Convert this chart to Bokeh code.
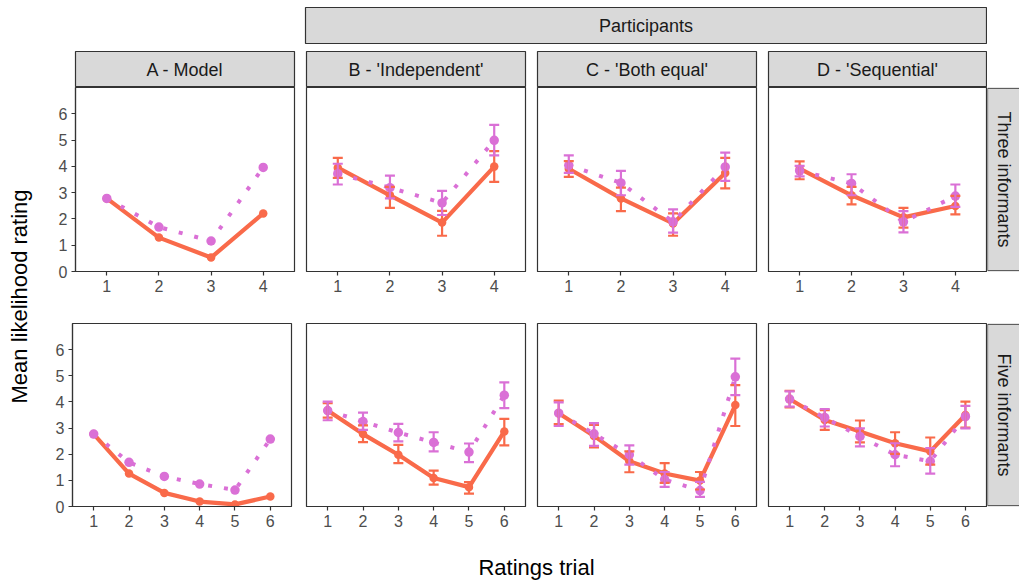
import math
from bokeh.plotting import figure
from bokeh.models import Range1d, FixedTicker, ColumnDataSource, Whisker, TeeHead, Spacer
from bokeh.layouts import row, column
from bokeh.core.properties import value
from bokeh.embed import file_html
from bokeh.resources import INLINE

# ---------------- data ----------------
trials_three = [1, 2, 3, 4]
trials_five = [1, 2, 3, 4, 5, 6]
y_ticks = [0, 1, 2, 3, 4, 5, 6]

column_labels = ["A - Model", "B - 'Independent'", "C - 'Both equal'", "D - 'Sequential'"]
row_labels = ["Three informants", "Five informants"]
group_label = "Participants"
x_title = "Ratings trial"
y_title = "Mean likelihood rating"

# Model (no error bars)
model3_solid = [2.78, 1.29, 0.53, 2.21]
model3_dotted = [2.78, 1.69, 1.16, 3.96]
model5_solid = [2.77, 1.26, 0.52, 0.19, 0.08, 0.38]
model5_dotted = [2.77, 1.69, 1.15, 0.86, 0.63, 2.58]

# Three informants - participants
ind3_solid = [3.95, 2.90, 1.86, 3.99]
ind3_solid_lo = [3.56, 2.42, 1.36, 3.41]
ind3_solid_hi = [4.32, 3.22, 2.31, 4.58]
ind3_dotted = [3.72, 3.19, 2.61, 4.99]
ind3_dotted_lo = [3.31, 2.78, 2.15, 4.42]
ind3_dotted_hi = [4.10, 3.65, 3.07, 5.58]

both3_solid = [3.91, 2.78, 1.83, 3.75]
both3_solid_lo = [3.60, 2.30, 1.36, 3.16]
both3_solid_hi = [4.20, 3.19, 2.21, 4.32]
both3_dotted = [4.04, 3.37, 1.89, 3.98]
both3_dotted_lo = [3.75, 2.90, 1.48, 3.45]
both3_dotted_hi = [4.42, 3.83, 2.36, 4.52]

seq3_solid = [3.91, 2.90, 2.06, 2.49]
seq3_solid_lo = [3.51, 2.55, 1.67, 2.17]
seq3_solid_hi = [4.19, 3.22, 2.42, 2.88]
seq3_dotted = [3.83, 3.35, 1.89, 2.87]
seq3_dotted_lo = [3.62, 2.90, 1.49, 2.46]
seq3_dotted_hi = [4.02, 3.70, 2.30, 3.31]

# Five informants - participants
ind5_solid = [3.67, 2.77, 1.98, 1.09, 0.74, 2.87]
ind5_solid_lo = [3.40, 2.46, 1.66, 0.84, 0.49, 2.34]
ind5_solid_hi = [3.95, 3.10, 2.36, 1.37, 0.93, 3.35]
ind5_dotted = [3.67, 3.25, 2.83, 2.45, 2.08, 4.26]
ind5_dotted_lo = [3.30, 2.93, 2.49, 2.11, 1.70, 3.76]
ind5_dotted_hi = [4.01, 3.59, 3.16, 2.84, 2.41, 4.75]

both5_solid = [3.57, 2.70, 1.73, 1.26, 0.99, 3.88]
both5_solid_lo = [3.15, 2.26, 1.31, 0.90, 0.65, 3.08]
both5_solid_hi = [4.05, 3.12, 2.11, 1.66, 1.32, 4.64]
both5_dotted = [3.57, 2.78, 1.98, 1.03, 0.61, 4.96]
both5_dotted_lo = [3.08, 2.32, 1.60, 0.75, 0.37, 4.26]
both5_dotted_hi = [3.98, 3.19, 2.34, 1.32, 0.94, 5.66]

seq5_solid = [4.11, 3.31, 2.87, 2.42, 2.11, 3.50]
seq5_solid_lo = [3.79, 2.93, 2.45, 2.01, 1.60, 3.02]
seq5_solid_hi = [4.42, 3.69, 3.29, 2.84, 2.64, 4.01]
seq5_dotted = [4.11, 3.40, 2.68, 1.98, 1.73, 3.44]
seq5_dotted_lo = [3.82, 3.06, 2.30, 1.54, 1.26, 2.99]
seq5_dotted_hi = [4.40, 3.73, 2.99, 2.42, 2.23, 3.85]

# ---------------- style ----------------
FONT = "Liberation Sans"
SOLID_COLOR = "#F96A4A"
DOTTED_COLOR = "#DA70D6"
STRIP_FILL = "#D9D9D9"
DARK = "#333333"
TICK_TEXT = "#4D4D4D"


def base_fig(w, h, xr, yr, **kw):
    p = figure(width=w, height=h, x_range=xr, y_range=yr, output_backend="svg",
               toolbar_location=None, **kw)
    p.xgrid.visible = False
    p.ygrid.visible = False
    return p


def strip(w, h, label, ml, mr, mt, mb, vertical=False):
    p = base_fig(w, h, Range1d(0, 1), Range1d(0, 1), x_axis_location=None, y_axis_location=None,
                 min_border_left=ml, min_border_right=mr, min_border_top=mt, min_border_bottom=mb)
    p.background_fill_color = STRIP_FILL
    p.outline_line_color = DARK
    p.outline_line_width = 1.2
    p.text(x=[0.5], y=[0.5], text=[label], text_align="center", text_baseline="middle",
           text_font=value(FONT), text_font_size="18px", text_color="#1A1A1A",
           angle=-math.pi / 2 if vertical else 0)
    return p


def right_strip(w, h, label, mt, mb):
    p = base_fig(w, h, Range1d(0, 1), Range1d(-0.004, 1.004), x_axis_location=None, y_axis_location=None,
                 min_border_left=0, min_border_right=0, min_border_top=mt, min_border_bottom=mb)
    p.outline_line_color = None
    p.quad(left=[0.0], right=[3.0], bottom=[0.0], top=[1.0], fill_color=STRIP_FILL,
           line_color=DARK, line_width=1.2)
    p.text(x=[0.5], y=[0.5], text=[label], text_align="center", text_baseline="middle",
           text_font=value(FONT), text_font_size="18px", text_color="#1A1A1A",
           angle=-math.pi / 2)
    return p


def panel(w, h, xs, solid, dotted, ml, mr, mt, mb, yaxis=False,
          solid_lo=None, solid_hi=None, dotted_lo=None, dotted_hi=None):
    n = len(xs)
    p = base_fig(w, h, Range1d(0.4, n + 0.6), Range1d(0, 7),
                 y_axis_location="left" if yaxis else None,
                 min_border_left=ml, min_border_right=mr, min_border_top=mt, min_border_bottom=mb)
    p.outline_line_color = DARK
    p.outline_line_width = 1.2
    p.outline_line_alpha = 1.0
    axes = [p.xaxis] + ([p.yaxis] if yaxis else [])
    for ax in axes:
        ax.axis_line_color = DARK
        ax.axis_line_width = 1.2
        ax.major_tick_line_color = DARK
        ax.major_tick_line_width = 1.2
        ax.major_tick_out = 4
        ax.major_tick_in = 0
        ax.minor_tick_out = 0
        ax.minor_tick_in = 0
        ax.major_label_text_font = FONT
        ax.major_label_text_font_size = "16px"
        ax.major_label_text_color = TICK_TEXT
        ax.major_label_standoff = 4
    p.xaxis.ticker = FixedTicker(ticks=list(xs))
    if yaxis:
        p.yaxis.ticker = FixedTicker(ticks=y_ticks)

    p.line(xs, solid, line_color=SOLID_COLOR, line_width=4.2, line_join="round")
    p.line(xs, dotted, line_color=DOTTED_COLOR, line_width=4, line_dash="4 12", line_cap="butt")
    if solid_lo is not None:
        for lo, hi, col in ((solid_lo, solid_hi, SOLID_COLOR), (dotted_lo, dotted_hi, DOTTED_COLOR)):
            src = ColumnDataSource(dict(x=list(xs), lo=lo, hi=hi))
            wsk = Whisker(source=src, base="x", lower="lo", upper="hi", line_color=col, line_width=2.2,
                          upper_head=TeeHead(size=10, line_color=col, line_width=2.2),
                          lower_head=TeeHead(size=10, line_color=col, line_width=2.2),
                          level="glyph")
            p.add_layout(wsk)
    p.scatter(xs, solid, size=8.5, fill_color=SOLID_COLOR, line_color=None)
    p.scatter(xs, dotted, size=9.5, fill_color=DOTTED_COLOR, line_color=None)
    return p


# ---------------- layout ----------------
YT_W = 36
TOTAL_W = 1019
RIGHT_W = TOTAL_W - YT_W  # 983

# Row 1: group strip
r1 = row(Spacer(width=268, height=50),
         strip(683, 50, group_label, 1, 1, 7, 7),
         Spacer(width=RIGHT_W - 268 - 683, height=50))

# Row 2: column strips
r2 = row(strip(269, 37, column_labels[0], 39, 11, 1, 0),
         strip(231, 37, column_labels[1], 1, 11, 1, 0),
         strip(231, 37, column_labels[2], 1, 11, 1, 0),
         strip(220, 37, column_labels[3], 1, 1, 1, 0),
         Spacer(width=32, height=37))

# Row 3: three informants
H3 = 235
r3 = row(panel(269, H3, trials_three, model3_solid, model3_dotted, 39, 11, 0, 51, yaxis=True),
         panel(231, H3, trials_three, ind3_solid, ind3_dotted, 1, 11, 0, 51,
               solid_lo=ind3_solid_lo, solid_hi=ind3_solid_hi, dotted_lo=ind3_dotted_lo, dotted_hi=ind3_dotted_hi),
         panel(231, H3, trials_three, both3_solid, both3_dotted, 1, 11, 0, 51,
               solid_lo=both3_solid_lo, solid_hi=both3_solid_hi, dotted_lo=both3_dotted_lo, dotted_hi=both3_dotted_hi),
         panel(220, H3, trials_three, seq3_solid, seq3_dotted, 1, 1, 0, 51,
               solid_lo=seq3_solid_lo, solid_hi=seq3_solid_hi, dotted_lo=seq3_dotted_lo, dotted_hi=seq3_dotted_hi),
         right_strip(32, H3, row_labels[0], 0, 51))

# Row 4: five informants
H5 = 224
r4 = row(panel(269, H5, trials_five, model5_solid, model5_dotted, 36, 14, 1, 40, yaxis=True),
         panel(231, H5, trials_five, ind5_solid, ind5_dotted, 1, 11, 1, 40,
               solid_lo=ind5_solid_lo, solid_hi=ind5_solid_hi, dotted_lo=ind5_dotted_lo, dotted_hi=ind5_dotted_hi),
         panel(231, H5, trials_five, both5_solid, both5_dotted, 1, 11, 1, 40,
               solid_lo=both5_solid_lo, solid_hi=both5_solid_hi, dotted_lo=both5_dotted_lo, dotted_hi=both5_dotted_hi),
         panel(220, H5, trials_five, seq5_solid, seq5_dotted, 1, 1, 1, 40,
               solid_lo=seq5_solid_lo, solid_hi=seq5_solid_hi, dotted_lo=seq5_dotted_lo, dotted_hi=seq5_dotted_hi),
         right_strip(32, H5, row_labels[1], 1, 40))

# Row 5: x title
XT_H = 36
xt = base_fig(RIGHT_W, XT_H, Range1d(0, RIGHT_W), Range1d(0, XT_H), x_axis_location=None,
              y_axis_location=None, min_border=0)
xt.outline_line_color = None
xt.text(x=[500], y=[15], text=[x_title], text_align="center", text_baseline="middle",
        text_font=value(FONT), text_font_size="22px", text_color="#000000")

# Y title
yt = base_fig(YT_W, 582, Range1d(0, YT_W), Range1d(0, 582), x_axis_location=None,
              y_axis_location=None, min_border=0)
yt.outline_line_color = None
yt.text(x=[19], y=[286], text=[y_title], text_align="center", text_baseline="middle",
        text_font=value(FONT), text_font_size="22px", text_color="#000000", angle=math.pi / 2)

layout = row(yt, column(r1, r2, r3, r4, xt))

open("out.html", "w").write(file_html(layout, INLINE))
